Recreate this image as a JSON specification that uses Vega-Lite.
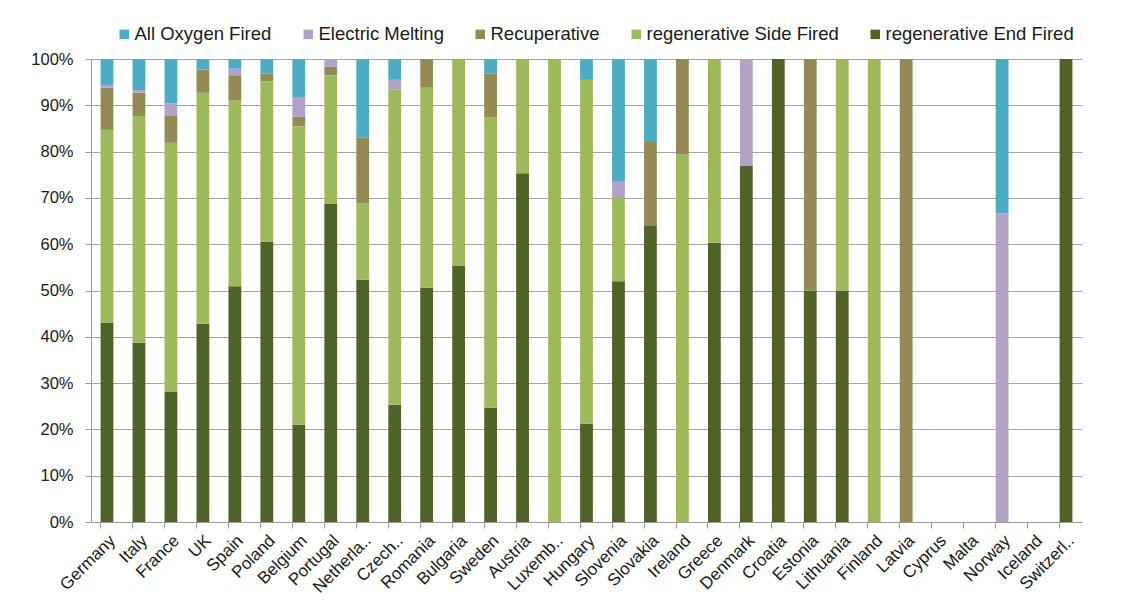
{
  "$schema": "https://vega.github.io/schema/vega-lite/v6.json",
  "width": 991,
  "height": 463,
  "autosize": {"type": "none"},
  "padding": {"left": 91, "top": 59, "right": 50, "bottom": 90},
  "background": "white",
  "config": {
    "view": {"stroke": null},
    "font": "Liberation Sans",
    "axis": {"labelFont": "Liberation Sans", "labelColor": "#1a1a1a", "labelFontSize": 16.5, "domainColor": "#9a9a9a", "tickColor": "#9a9a9a", "gridColor": "#a6a6a6", "title": null}
  },
  "data": {
    "values": [
      {"country": "Germany", "type": "regenerative End Fired", "share": 43.1, "rank": 1},
      {"country": "Germany", "type": "regenerative Side Fired", "share": 41.6, "rank": 2},
      {"country": "Germany", "type": "Recuperative", "share": 9.1, "rank": 3},
      {"country": "Germany", "type": "Electric Melting", "share": 0.6, "rank": 4},
      {"country": "Germany", "type": "All Oxygen Fired", "share": 5.6, "rank": 5},
      {"country": "Italy", "type": "regenerative End Fired", "share": 38.7, "rank": 1},
      {"country": "Italy", "type": "regenerative Side Fired", "share": 49.0, "rank": 2},
      {"country": "Italy", "type": "Recuperative", "share": 5.0, "rank": 3},
      {"country": "Italy", "type": "Electric Melting", "share": 0.6, "rank": 4},
      {"country": "Italy", "type": "All Oxygen Fired", "share": 6.7, "rank": 5},
      {"country": "France", "type": "regenerative End Fired", "share": 28.1, "rank": 1},
      {"country": "France", "type": "regenerative Side Fired", "share": 53.8, "rank": 2},
      {"country": "France", "type": "Recuperative", "share": 5.8, "rank": 3},
      {"country": "France", "type": "Electric Melting", "share": 2.7, "rank": 4},
      {"country": "France", "type": "All Oxygen Fired", "share": 9.6, "rank": 5},
      {"country": "UK", "type": "regenerative End Fired", "share": 42.8, "rank": 1},
      {"country": "UK", "type": "regenerative Side Fired", "share": 49.9, "rank": 2},
      {"country": "UK", "type": "Recuperative", "share": 5.0, "rank": 3},
      {"country": "UK", "type": "All Oxygen Fired", "share": 2.3, "rank": 5},
      {"country": "Spain", "type": "regenerative End Fired", "share": 50.9, "rank": 1},
      {"country": "Spain", "type": "regenerative Side Fired", "share": 40.1, "rank": 2},
      {"country": "Spain", "type": "Recuperative", "share": 5.5, "rank": 3},
      {"country": "Spain", "type": "Electric Melting", "share": 1.4, "rank": 4},
      {"country": "Spain", "type": "All Oxygen Fired", "share": 2.1, "rank": 5},
      {"country": "Poland", "type": "regenerative End Fired", "share": 60.6, "rank": 1},
      {"country": "Poland", "type": "regenerative Side Fired", "share": 34.6, "rank": 2},
      {"country": "Poland", "type": "Recuperative", "share": 1.7, "rank": 3},
      {"country": "Poland", "type": "All Oxygen Fired", "share": 3.1, "rank": 5},
      {"country": "Belgium", "type": "regenerative End Fired", "share": 21.0, "rank": 1},
      {"country": "Belgium", "type": "regenerative Side Fired", "share": 64.5, "rank": 2},
      {"country": "Belgium", "type": "Recuperative", "share": 2.0, "rank": 3},
      {"country": "Belgium", "type": "Electric Melting", "share": 4.3, "rank": 4},
      {"country": "Belgium", "type": "All Oxygen Fired", "share": 8.2, "rank": 5},
      {"country": "Portugal", "type": "regenerative End Fired", "share": 68.8, "rank": 1},
      {"country": "Portugal", "type": "regenerative Side Fired", "share": 27.7, "rank": 2},
      {"country": "Portugal", "type": "Recuperative", "share": 1.8, "rank": 3},
      {"country": "Portugal", "type": "Electric Melting", "share": 1.7, "rank": 4},
      {"country": "Netherla..", "type": "regenerative End Fired", "share": 52.3, "rank": 1},
      {"country": "Netherla..", "type": "regenerative Side Fired", "share": 16.5, "rank": 2},
      {"country": "Netherla..", "type": "Recuperative", "share": 14.2, "rank": 3},
      {"country": "Netherla..", "type": "All Oxygen Fired", "share": 17.0, "rank": 5},
      {"country": "Czech..", "type": "regenerative End Fired", "share": 25.3, "rank": 1},
      {"country": "Czech..", "type": "regenerative Side Fired", "share": 68.1, "rank": 2},
      {"country": "Czech..", "type": "Electric Melting", "share": 2.1, "rank": 4},
      {"country": "Czech..", "type": "All Oxygen Fired", "share": 4.5, "rank": 5},
      {"country": "Romania", "type": "regenerative End Fired", "share": 50.6, "rank": 1},
      {"country": "Romania", "type": "regenerative Side Fired", "share": 43.2, "rank": 2},
      {"country": "Romania", "type": "Recuperative", "share": 6.2, "rank": 3},
      {"country": "Bulgaria", "type": "regenerative End Fired", "share": 55.3, "rank": 1},
      {"country": "Bulgaria", "type": "regenerative Side Fired", "share": 44.7, "rank": 2},
      {"country": "Sweden", "type": "regenerative End Fired", "share": 24.7, "rank": 1},
      {"country": "Sweden", "type": "regenerative Side Fired", "share": 62.7, "rank": 2},
      {"country": "Sweden", "type": "Recuperative", "share": 9.5, "rank": 3},
      {"country": "Sweden", "type": "All Oxygen Fired", "share": 3.1, "rank": 5},
      {"country": "Austria", "type": "regenerative End Fired", "share": 75.3, "rank": 1},
      {"country": "Austria", "type": "regenerative Side Fired", "share": 24.7, "rank": 2},
      {"country": "Luxemb..", "type": "regenerative Side Fired", "share": 100, "rank": 2},
      {"country": "Hungary", "type": "regenerative End Fired", "share": 21.2, "rank": 1},
      {"country": "Hungary", "type": "regenerative Side Fired", "share": 74.3, "rank": 2},
      {"country": "Hungary", "type": "All Oxygen Fired", "share": 4.5, "rank": 5},
      {"country": "Slovenia", "type": "regenerative End Fired", "share": 52.0, "rank": 1},
      {"country": "Slovenia", "type": "regenerative Side Fired", "share": 18.2, "rank": 2},
      {"country": "Slovenia", "type": "Electric Melting", "share": 3.3, "rank": 4},
      {"country": "Slovenia", "type": "All Oxygen Fired", "share": 26.5, "rank": 5},
      {"country": "Slovakia", "type": "regenerative End Fired", "share": 64.1, "rank": 1},
      {"country": "Slovakia", "type": "Recuperative", "share": 18.0, "rank": 3},
      {"country": "Slovakia", "type": "All Oxygen Fired", "share": 17.9, "rank": 5},
      {"country": "Ireland", "type": "regenerative Side Fired", "share": 79.4, "rank": 2},
      {"country": "Ireland", "type": "Recuperative", "share": 20.6, "rank": 3},
      {"country": "Greece", "type": "regenerative End Fired", "share": 60.3, "rank": 1},
      {"country": "Greece", "type": "regenerative Side Fired", "share": 39.7, "rank": 2},
      {"country": "Denmark", "type": "regenerative End Fired", "share": 76.9, "rank": 1},
      {"country": "Denmark", "type": "Electric Melting", "share": 23.1, "rank": 4},
      {"country": "Croatia", "type": "regenerative End Fired", "share": 100, "rank": 1},
      {"country": "Estonia", "type": "regenerative End Fired", "share": 50, "rank": 1},
      {"country": "Estonia", "type": "Recuperative", "share": 50, "rank": 3},
      {"country": "Lithuania", "type": "regenerative End Fired", "share": 50, "rank": 1},
      {"country": "Lithuania", "type": "regenerative Side Fired", "share": 50, "rank": 2},
      {"country": "Finland", "type": "regenerative Side Fired", "share": 100, "rank": 2},
      {"country": "Latvia", "type": "Recuperative", "share": 100, "rank": 3},
      {"country": "Norway", "type": "Electric Melting", "share": 66.7, "rank": 4},
      {"country": "Norway", "type": "All Oxygen Fired", "share": 33.3, "rank": 5},
      {"country": "Switzerl..", "type": "regenerative End Fired", "share": 100, "rank": 1}
    ]
  },
  "mark": {"type": "bar"},
  "encoding": {
    "x": {
      "field": "country",
      "type": "nominal",
      "scale": {
        "domain": ["Germany", "Italy", "France", "UK", "Spain", "Poland", "Belgium", "Portugal", "Netherla..", "Czech..", "Romania", "Bulgaria", "Sweden", "Austria", "Luxemb..", "Hungary", "Slovenia", "Slovakia", "Ireland", "Greece", "Denmark", "Croatia", "Estonia", "Lithuania", "Finland", "Latvia", "Cyprus", "Malta", "Norway", "Iceland", "Switzerl.."],
        "paddingInner": 0.6,
        "paddingOuter": 0.3
      },
      "axis": {"labelAngle": -45, "labelAlign": "right", "labelBaseline": "top", "bandPosition": 0, "tickSize": 6, "labelPadding": 4, "labelFontSize": 17, "grid": false}
    },
    "y": {
      "field": "share",
      "type": "quantitative",
      "stack": "zero",
      "scale": {"domain": [0, 100]},
      "axis": {"values": [0, 10, 20, 30, 40, 50, 60, 70, 80, 90, 100], "labelExpr": "datum.value + '%'", "tickSize": 6, "labelPadding": 12, "grid": true, "gridWidth": 1}
    },
    "color": {
      "field": "type",
      "type": "nominal",
      "scale": {
        "domain": ["All Oxygen Fired", "Electric Melting", "Recuperative", "regenerative Side Fired", "regenerative End Fired"],
        "range": ["#4BACC6", "#B3A2C7", "#948A54", "#9BBB59", "#4F6228"]
      },
      "legend": {
        "title": null,
        "orient": "none",
        "direction": "horizontal",
        "legendX": 24,
        "legendY": -34,
        "columns": 5,
        "columnPadding": 27,
        "symbolType": "square",
        "symbolSize": 90,
        "symbolStrokeWidth": 0,
        "symbolOpacity": 1,
        "labelOffset": 1,
        "labelFontSize": 18.5,
        "labelFont": "Liberation Sans",
        "labelColor": "#1a1a1a",
        "labelLimit": 400
      }
    },
    "order": {"field": "rank", "type": "quantitative"}
  }
}
